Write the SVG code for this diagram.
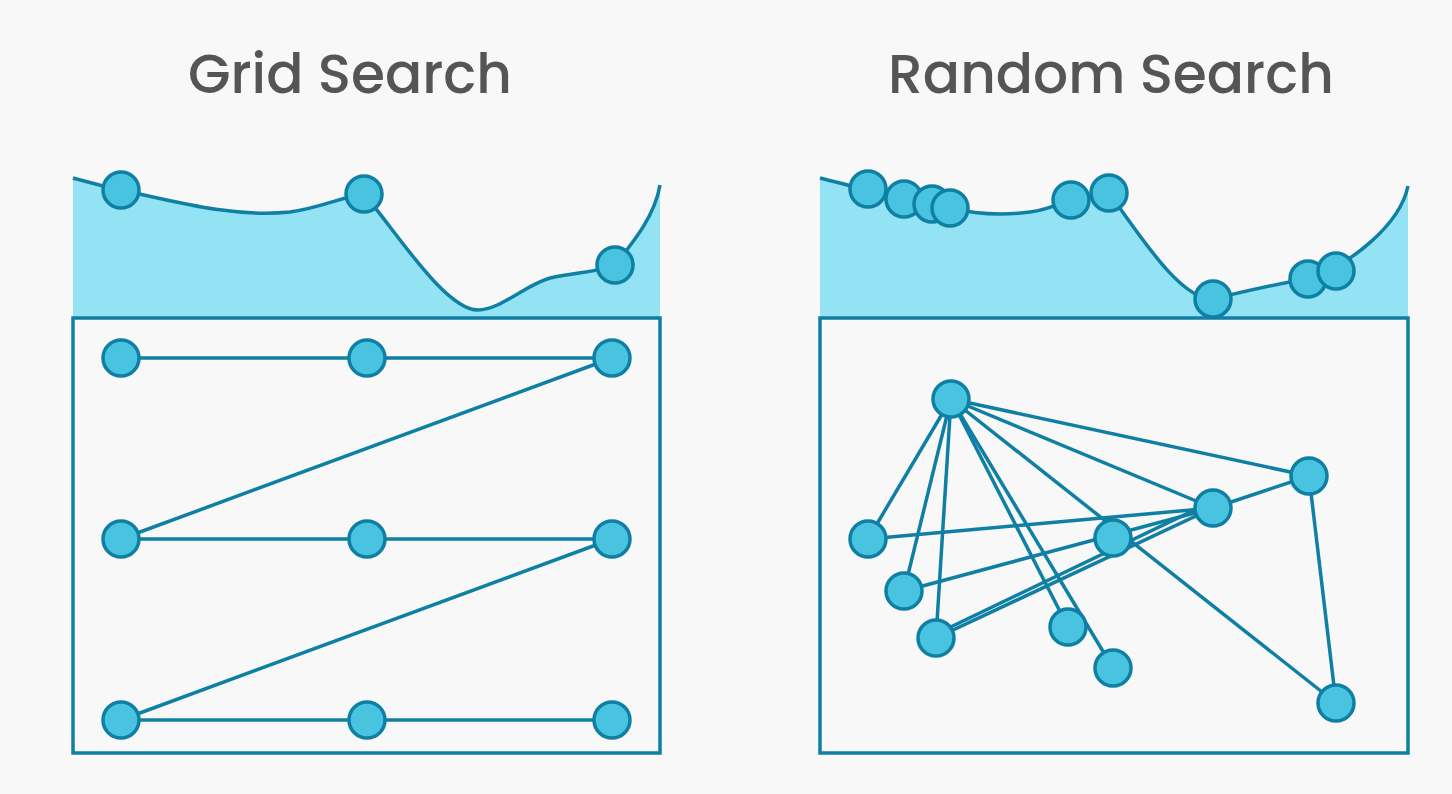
<svg xmlns="http://www.w3.org/2000/svg" width="1452" height="794" viewBox="0 0 1452 794">
<style>
.title{font-family:"Poppins","Open Sans","Liberation Sans",sans-serif;font-size:55px;font-weight:500;fill:#555555;text-anchor:middle}
.area{fill:#93e3f5;stroke:none}
.curve{fill:none;stroke:#0f7fa3;stroke-width:3.5}
.box{fill:#f8f8f9;stroke:#0f7fa3;stroke-width:3.5}
.edge{stroke:#0f7fa3;stroke-width:3.5;fill:none}
.node{fill:#48c4e1;stroke:#0f7fa3;stroke-width:3.5}
</style>
<rect width="1452" height="794" fill="#f8f8f9"/>
<text class="title" x="350" y="93">Grid Search</text>
<text class="title" x="1111" y="93">Random Search</text>

<g id="grid-landscape">
<path class="area" d="M73,178 C95,184 110,188 121,190 C170,200 230,218 290,212 C320,208 345,196 364,194 C395,230 445,310 478,310 C500,310 525,285 550,278 C575,272 600,272 615,265 C635,240 655,215 660,185 L660,318 L73,318 Z"/>
<path class="curve" d="M73,178 C95,184 110,188 121,190 C170,200 230,218 290,212 C320,208 345,196 364,194 C395,230 445,310 478,310 C500,310 525,285 550,278 C575,272 600,272 615,265 C635,240 655,215 660,185"/>
</g>
<g id="random-landscape">
<path class="area" d="M820,178 C840,183 855,187 868,190 L904,199 L950,208 C975,214 1000,216 1030,212 C1050,209 1060,203 1071,200 L1109,193 C1140,235 1180,300 1213,299 C1250,290 1280,283 1308,279 C1350,265 1400,225 1408,186 L1408,318 L820,318 Z"/>
<path class="curve" d="M820,178 C840,183 855,187 868,190 L904,199 L950,208 C975,214 1000,216 1030,212 C1050,209 1060,203 1071,200 L1109,193 C1140,235 1180,300 1213,299 C1250,290 1280,283 1308,279 C1350,265 1400,225 1408,186"/>
</g>

<rect id="grid-box" class="box" x="73" y="318" width="587" height="435"/>
<rect id="random-box" class="box" x="820" y="318" width="588" height="435"/>

<g id="connectors">
<path class="edge" d="M121,358 L612,358 L121,539 L612,539 L121,720 L612,720"/>
<line class="edge" x1="951" y1="399" x2="868" y2="539"/>
<line class="edge" x1="951" y1="399" x2="904" y2="591"/>
<line class="edge" x1="951" y1="399" x2="936" y2="638"/>
<line class="edge" x1="951" y1="399" x2="1068" y2="627"/>
<line class="edge" x1="951" y1="399" x2="1113" y2="668"/>
<line class="edge" x1="951" y1="399" x2="1336" y2="703"/>
<line class="edge" x1="951" y1="399" x2="1213" y2="508"/>
<line class="edge" x1="951" y1="399" x2="1309" y2="476"/>
<line class="edge" x1="1309" y1="476" x2="1213" y2="508"/>
<line class="edge" x1="1309" y1="476" x2="1336" y2="703"/>
<line class="edge" x1="868" y1="539" x2="1213" y2="508"/>
<line class="edge" x1="904" y1="591" x2="1213" y2="508"/>
<line class="edge" x1="936" y1="638" x2="1213" y2="508"/>
<line class="edge" x1="936" y1="634" x2="1205" y2="505"/>
</g>

<g id="grid-points">
<circle class="node" cx="121" cy="190" r="18"/>
<circle class="node" cx="364" cy="194" r="18"/>
<circle class="node" cx="615" cy="265" r="18"/>
<circle class="node" cx="121" cy="358" r="18"/>
<circle class="node" cx="367" cy="358" r="18"/>
<circle class="node" cx="612" cy="358" r="18"/>
<circle class="node" cx="121" cy="539" r="18"/>
<circle class="node" cx="367" cy="539" r="18"/>
<circle class="node" cx="612" cy="539" r="18"/>
<circle class="node" cx="121" cy="720" r="18"/>
<circle class="node" cx="367" cy="720" r="18"/>
<circle class="node" cx="612" cy="720" r="18"/>
</g>
<g id="random-points">
<circle class="node" cx="868" cy="189" r="18"/>
<circle class="node" cx="904" cy="199" r="18"/>
<circle class="node" cx="932" cy="204" r="18"/>
<circle class="node" cx="950" cy="208" r="18"/>
<circle class="node" cx="1071" cy="200" r="18"/>
<circle class="node" cx="1109" cy="193" r="18"/>
<circle class="node" cx="1213" cy="299" r="18"/>
<circle class="node" cx="1308" cy="279" r="18"/>
<circle class="node" cx="1336" cy="271" r="18"/>
<circle class="node" cx="951" cy="399" r="18"/>
<circle class="node" cx="1309" cy="476" r="18"/>
<circle class="node" cx="1213" cy="508" r="18"/>
<circle class="node" cx="1113" cy="538" r="18"/>
<circle class="node" cx="868" cy="539" r="18"/>
<circle class="node" cx="904" cy="591" r="18"/>
<circle class="node" cx="936" cy="638" r="18"/>
<circle class="node" cx="1068" cy="627" r="18"/>
<circle class="node" cx="1113" cy="668" r="18"/>
<circle class="node" cx="1336" cy="703" r="18"/>
</g>
</svg>
